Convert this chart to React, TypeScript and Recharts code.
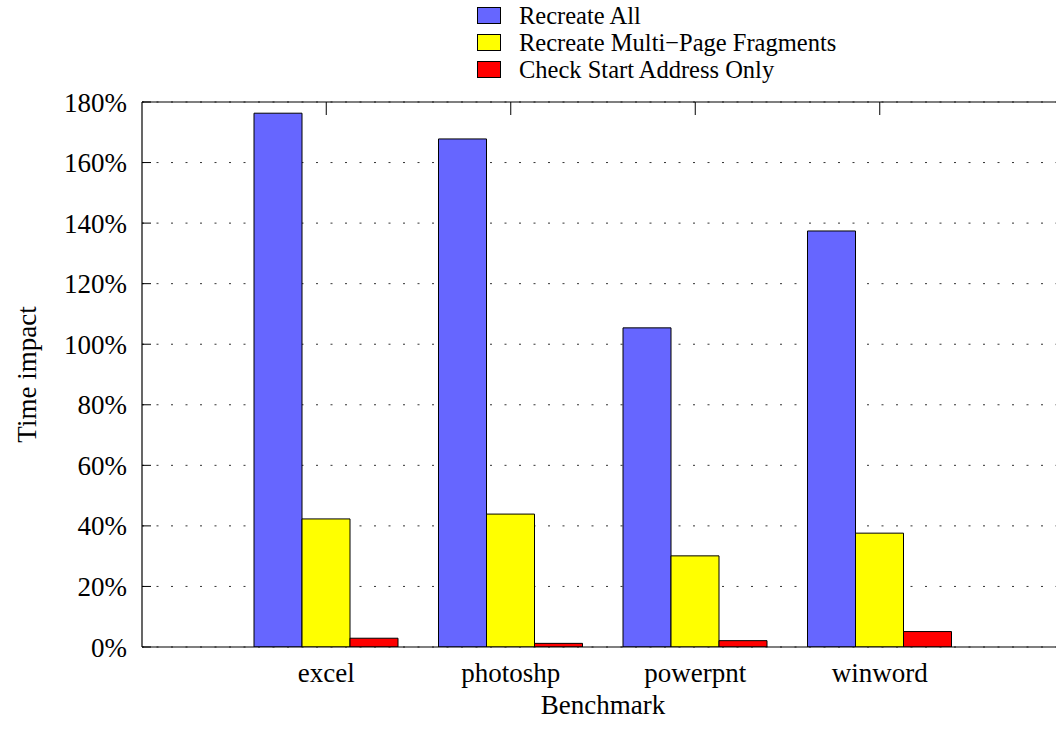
import React from 'react';
import { ComposedChart, Bar, Scatter, XAxis, YAxis, CartesianGrid, Legend, ReferenceLine } from 'recharts';

const categories = ['excel', 'photoshp', 'powerpnt', 'winword'];
const recreateAll = [176.3, 167.8, 105.4, 137.4];
const multiPage = [42.3, 43.9, 30.1, 37.6];
const checkStart = [2.9, 1.2, 2.1, 5.1];
const yTicks = [0, 20, 40, 60, 80, 100, 120, 140, 160, 180];
const yMax = 180;

const seriesNames = ['Recreate All', 'Recreate Multi\u2212Page Fragments', 'Check Start Address Only'];
const seriesColors = ['#6666ff', '#ffff00', '#ff0000'];

const data = categories.map((name, i) => ({
  name,
  a: recreateAll[i],
  b: multiPage[i],
  c: checkStart[i],
  top: yMax,
}));

const FONT = '"Liberation Serif", "Times New Roman", serif';

const YLabel = (props: any) => {
  const vb = props.viewBox || {};
  const x = 27;
  const y = vb.y + vb.height / 2;
  return (
    <text x={x} y={y} transform={`rotate(-90 ${x} ${y})`} textAnchor="middle" dominantBaseline="central"
      fontFamily={FONT} fontSize={27} fill="#000">Time impact</text>
  );
};

const XLabel = (props: any) => {
  const vb = props.viewBox || {};
  const x = vb.x + vb.width / 2;
  const y = vb.y + 67;
  return (
    <text x={x} y={y} textAnchor="middle" fontFamily={FONT} fontSize={27} fill="#000">Benchmark</text>
  );
};

const LegendContent = (props: any) => {
  const payload = [...(props.payload || [])]
    .filter((p: any) => seriesNames.indexOf(p.value) >= 0)
    .sort((p: any, q: any) => seriesNames.indexOf(p.value) - seriesNames.indexOf(q.value));
  return (
    <div style={{ fontFamily: FONT, fontSize: 24.5, lineHeight: '27px' }}>
      {payload.map((p: any, i: number) => (
        <div key={i} style={{ display: 'flex', alignItems: 'center', height: 27 }}>
          <div style={{ width: 22, height: 15, background: p.color, border: '1px solid #000', marginRight: 18 }} />
          <span style={{ color: '#000', whiteSpace: 'nowrap' }}>{p.value}</span>
        </div>
      ))}
    </div>
  );
};

// y tick: label plus a short inward tick mark starting at the axis line
const YTick = (p: any) => {
  const v = p.payload ? p.payload.value : '';
  const axisX = p.x + 15;
  return (
    <g>
      <text x={p.x} y={p.y} dy="0.355em" textAnchor="end" fontFamily={FONT} fontSize={27} fill="#000">{`${v}%`}</text>
      <line x1={axisX} x2={axisX + 9} y1={p.y} y2={p.y} stroke="#000" strokeWidth={1} />
    </g>
  );
};

// category tick on the top border, drawn at the scatter point placed at the top of the range
const TopTick = (p: any) => {
  if (p.cx == null || p.cy == null) return <g />;
  return <line x1={p.cx} x2={p.cx} y1={p.cy} y2={p.cy + 13} stroke="#000" strokeWidth={1} />;
};

export default function App() {
  return (
    <div style={{ position: 'fixed', left: 0, top: 0, width: 1056, height: 742, overflow: 'hidden', background: '#fff' }}>
      <ComposedChart width={1100} height={742} data={data} margin={{ top: 102, right: 36, bottom: 0, left: 0 }}
        barGap={0} barSize={48} style={{ fontFamily: FONT }}>
        <CartesianGrid vertical={false} stroke="#333" strokeDasharray="2 12.5" />
        <XAxis dataKey="name" height={95} padding={{ left: 92, right: 92 }} tickLine={false} tickSize={0} tickMargin={16}
          axisLine={{ stroke: '#000', strokeWidth: 1.2 }} tick={{ fill: '#000', fontSize: 27, fontFamily: FONT }}
          label={<XLabel />} />
        <YAxis width={142} domain={[0, yMax]} ticks={yTicks}
          tickLine={false} tickSize={0} tickMargin={15} axisLine={{ stroke: '#000', strokeWidth: 1.2 }}
          tick={<YTick />} label={<YLabel />} allowDataOverflow />
        <ReferenceLine y={yMax} stroke="#000" strokeWidth={1.2} />
        <Legend layout="vertical" align="center" verticalAlign="middle" content={<LegendContent />}
          wrapperStyle={{ top: 2, left: 477, width: 450, height: 'auto' }} />
        <Bar dataKey="a" name={seriesNames[0]} fill={seriesColors[0]} stroke="#000" strokeWidth={1} isAnimationActive={false} />
        <Bar dataKey="b" name={seriesNames[1]} fill={seriesColors[1]} stroke="#000" strokeWidth={1} isAnimationActive={false} />
        <Bar dataKey="c" name={seriesNames[2]} fill={seriesColors[2]} stroke="#000" strokeWidth={1} isAnimationActive={false} />
        <Scatter dataKey="top" name="ticks" legendType="none" shape={(p: any) => <TopTick {...p} />} isAnimationActive={false} />
      </ComposedChart>
    </div>
  );
}
